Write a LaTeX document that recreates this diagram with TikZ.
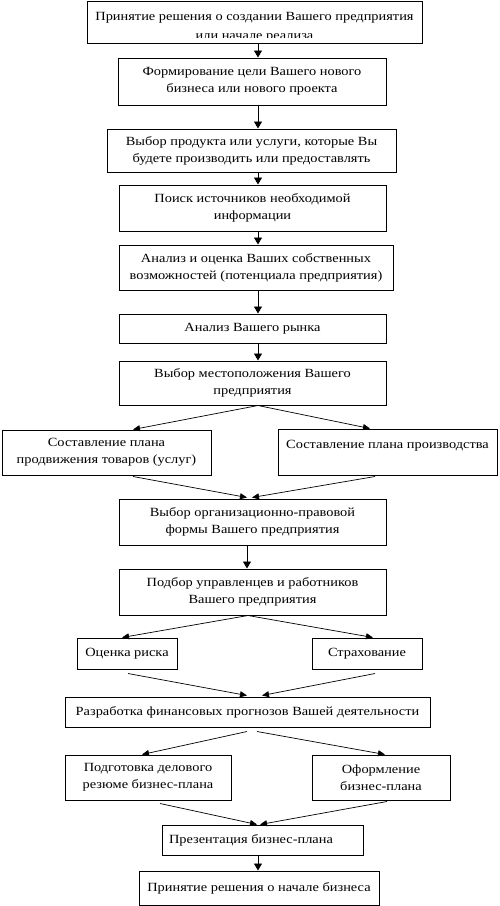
\documentclass[tikz,border=0pt]{standalone}
\usepackage{fontspec}
\setmainfont{Liberation Serif}[FakeStretch=1.15]
\usetikzlibrary{arrows.meta,calc}
\begin{document}
\begin{tikzpicture}[x=1pt,y=-1pt,
  font=\fontsize{12.5}{17}\selectfont,
  box/.style={draw,line width=1pt,inner sep=0pt,align=center},
  arr/.style={line width=0.8pt,-{Triangle[length=7pt,width=8pt]}},
  darr/.style={line width=0.7pt,-{Triangle[length=7pt,width=6pt]}}]
\useasboundingbox (0,0) rectangle (500,906);
\newcommand{\bx}[6]{\node[box,minimum width=#4-#2,minimum height=#5-#3] (#1) at ({(#2+#4)/2},{(#3+#5)/2}) {#6};}
\coordinate (axis) at (258,0);
% boxes
\bx{b1}{87}{1}{422}{43}{}
\begin{scope}
\clip (87,1) rectangle (422,37);
\node[anchor=base,inner sep=0pt] (t1) at (254.5,20) {Принятие решения о создании Вашего предприятия};
\node[anchor=base,inner sep=0pt] (t1b) at (254.5,39) {или начале реализа};
\end{scope}
\bx{b2}{118}{58}{386}{105}{Формирование цели Вашего нового\\бизнеса или нового проекта}
\bx{b3}{107}{129}{396}{172}{Выбор продукта или услуги, которые Вы\\будете производить или предоставлять}
\bx{b4}{119}{185}{386}{231}{Поиск источников необходимой\\информации}
\bx{b5}{119}{245}{393}{290}{Анализ и оценка Ваших собственных\\возможностей (потенциала предприятия)}
\bx{b6}{119}{314}{386}{343}{Анализ Вашего рынка}
\bx{b7}{119}{361}{386}{405}{Выбор местоположения Вашего\\предприятия}
\bx{b8}{2}{430}{211}{475}{Составление плана\\продвижения товаров (услуг)}
\bx{b9}{278}{429}{497}{475}{Составление плана производства\\[-6pt]\strut}
\bx{b10}{119}{499}{386}{545}{Выбор организационно-правовой\\формы Вашего предприятия}
\bx{b11}{119}{569}{386}{615}{Подбор управленцев и работников\\Вашего предприятия}
\bx{b12}{77}{638}{177}{669}{Оценка риска}
\bx{b13}{312}{638}{422}{669}{Страхование}
\bx{b14}{65}{697}{430}{727}{Разработка финансовых прогнозов Вашей деятельности}
\bx{b15}{65}{755}{231}{800}{Подготовка делового\\резюме бизнес-плана}
\bx{b16}{312}{755}{450}{800}{Оформление\\бизнес-плана}
\bx{b17}{162}{825}{363}{855}{Презентация бизнес-плана\hspace*{23pt}}
\bx{b18}{139}{871}{379}{905}{Принятие решения о начале бизнеса}
% vertical arrows
\draw[arr] (b1.south -| axis) -- (b2.north -| axis);
\draw[arr] (b2.south -| axis) -- (b3.north -| axis);
\draw[arr] (b3.south -| axis) -- (b4.north -| axis);
\draw[arr] (b4.south -| axis) -- (b5.north -| axis);
\draw[arr] (b5.south -| axis) -- (b6.north -| axis);
\draw[arr] (b6.south -| axis) -- (b7.north -| axis);
\draw[arr] ([xshift=-5.5pt]b10.south) -- ([xshift=-5.5pt]b11.north);
\draw[arr] (b17.south -| axis) -- (b18.north -| axis);
% diagonal arrows
\draw[darr] ([xshift=5.5pt]b7.south) -- ([xshift=26.5pt]b8.north);
\draw[darr] ([xshift=5.5pt]b7.south) -- ([xshift=-17.5pt]b9.north);
\draw[darr] ([xshift=26.5pt,yshift=-1pt]b8.south) -- ([xshift=-5.5pt,yshift=1pt]b10.north);
\draw[darr] ([xshift=-12.5pt,yshift=-1pt]b9.south) -- ([xshift=-0.5pt,yshift=1pt]b10.north);
\draw[darr] ([xshift=-4.5pt]b11.south) -- ([xshift=-5pt]b12.north);
\draw[darr] ([xshift=-4.5pt]b11.south) -- ([xshift=6pt]b13.north);
\draw[darr] ([xshift=1pt,yshift=-4pt]b12.south) -- ([xshift=-0.5pt,yshift=1pt]b14.north);
\draw[darr] ([xshift=8pt,yshift=-4pt]b13.south) -- ([xshift=14.5pt,yshift=1pt]b14.north);
\draw[darr] ([xshift=-0.5pt,yshift=-4pt]b14.south) -- ([xshift=-6pt]b15.north);
\draw[darr] ([xshift=9.5pt,yshift=-4pt]b14.south) -- ([xshift=4pt]b16.north);
\draw[darr] ([xshift=12pt,yshift=-3pt]b15.south) -- ([xshift=-5.5pt]b17.north);
\draw[darr] ([xshift=6pt,yshift=-1pt]b16.south) -- ([xshift=-2.5pt]b17.north);
\end{tikzpicture}
\end{document}
